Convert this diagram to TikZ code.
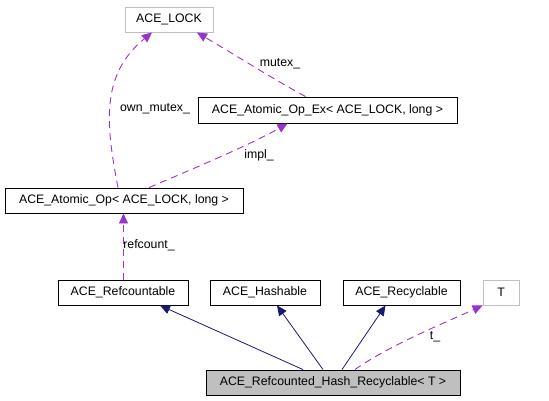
\documentclass[tikz,border=0pt]{standalone}
\usepackage{fontspec}
\setmainfont{Liberation Sans}
\usetikzlibrary{arrows.meta}
\definecolor{edgepurple}{HTML}{9A32CD}
\definecolor{edgenavy}{HTML}{191970}
\definecolor{boxgray}{HTML}{BFBFBF}
\tikzset{
  cls/.style={draw=black, line width=0.9bp, inner sep=0pt, font=\fontsize{12.3bp}{14bp}\selectfont, text=black},
  ext/.style={cls, draw=boxgray},
  cur/.style={cls, fill=boxgray},
  usage/.style={draw=edgepurple, line width=0.9bp, dash pattern=on 7bp off 5bp, -{Triangle[length=10bp,width=9bp]}, fill=none},
  inherit/.style={draw=edgenavy, line width=0.8bp, -{Triangle[length=10bp,width=9bp]}},
  elabel/.style={font=\fontsize{12.3bp}{14bp}\selectfont, inner sep=0pt, text=black}
}
\begin{document}
\begin{tikzpicture}[x=1bp,y=-1bp]
\useasboundingbox (0,0) rectangle (549,400);
\fill[white] (0,0) rectangle (549,400);
\node[ext, minimum width=88bp, minimum height=25bp] (lock) at (169,19.5) {ACE\_LOCK};
\node[cls, minimum width=259bp, minimum height=26bp] (opex) at (327.5,110) {ACE\_Atomic\_Op\_Ex< ACE\_LOCK, long >};
\node[cls, minimum width=238bp, minimum height=25bp] (op) at (124,200.5) {ACE\_Atomic\_Op< ACE\_LOCK, long >};
\node[cls, minimum width=130bp, minimum height=25bp] (refc) at (123,292.5) {ACE\_Refcountable};
\node[cls, minimum width=110bp, minimum height=25bp] (hash) at (265,292.5) {ACE\_Hashable};
\node[cls, minimum width=117bp, minimum height=25bp] (recy) at (401.5,292.5) {ACE\_Recyclable};
\node[ext, minimum width=36bp, minimum height=25bp] (T) at (501,292.5) {T};
\node[cur, minimum width=254bp, minimum height=25bp] (main) at (333,382.5) {ACE\_Refcounted\_Hash\_Recyclable< T >};

% usage edges
\draw[usage] ([xshift=-6bp]op.north) .. controls (106,125) and (100,75) .. ([xshift=-17bp]lock.south);
\draw[usage] ([xshift=-22bp]opex.north) .. controls (270,77) and (240,58) .. ([xshift=28bp]lock.south);
\draw[usage] ([xshift=25bp]op.north) .. controls (190,170) and (250,145) .. ([xshift=-40bp]opex.south);
\draw[usage] ([xshift=0.5bp]refc.north) -- ([xshift=0.5bp]refc.north |- op.south);
\draw[usage] ([xshift=22bp]main.north) .. controls (390,345) and (440,325) .. (T.south west);

% inheritance edges
\draw[inherit] ([xshift=-30bp]main.north) -- ([xshift=37bp]refc.south);
\draw[inherit] ([xshift=-10bp]main.north) -- ([xshift=12bp]hash.south);
\draw[inherit] ([xshift=9bp]main.north) -- ([xshift=-16bp]recy.south);

% labels
\node[elabel] (lownmutex) at (155,109) {own\_mutex\_};
\node[elabel] (lmutex) at (280,64) {mutex\_};
\node[elabel] (limpl) at (259,155) {impl\_};
\node[elabel] (lrefcount) at (149,245) {refcount\_};
\node[elabel] (lt) at (435,337) {t\_};
\end{tikzpicture}
\end{document}
